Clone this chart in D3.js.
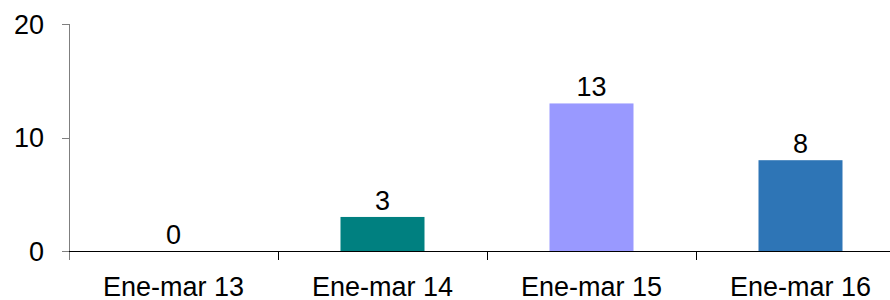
<!DOCTYPE html>
<html>
<head>
<meta charset="utf-8">
<script src="https://cdn.jsdelivr.net/npm/d3@7"></script>
<style>
  body { margin: 0; background: #fff; }
  text { font-family: "Liberation Sans", Arial, sans-serif; fill: #000; }
</style>
</head>
<body>
<svg id="chart" width="890" height="300"></svg>
<script>
var categories = ["Ene-mar 13", "Ene-mar 14", "Ene-mar 15", "Ene-mar 16"];
var values = [0, 3, 13, 8];
var colors = ["#4472c4", "#008080", "#9999ff", "#2e75b6"];
var yTicks = [0, 10, 20];

var svg = d3.select("#chart"),
  plotLeft = 69, plotTop = 24, plotBottom = 251, fs = 27;

var x = d3.scaleBand().domain(categories).range([plotLeft, plotLeft + 4 * 209]).paddingInner(0).paddingOuter(0);
var y = d3.scaleLinear().domain([0, 20]).range([plotBottom, plotTop]);
var barW = 84;

// y axis
svg.append("line")
  .attr("x1", plotLeft + 0.5).attr("x2", plotLeft + 0.5)
  .attr("y1", y(20)).attr("y2", plotBottom + 9)
  .attr("stroke", "#7f7f7f").attr("stroke-width", 1);
svg.selectAll(".ytick").data(yTicks).enter().append("line")
  .attr("x1", plotLeft - 7).attr("x2", plotLeft)
  .attr("y1", function(d) { return Math.round(y(d)) + 0.5; })
  .attr("y2", function(d) { return Math.round(y(d)) + 0.5; })
  .attr("stroke", "#7f7f7f");
svg.selectAll(".ylab").data(yTicks).enter().append("text")
  .attr("x", 44).attr("y", function(d) { return y(d); })
  .attr("dy", "0.36em").attr("text-anchor", "end")
  .attr("font-size", fs).text(function(d) { return d; });

// bars
svg.selectAll(".bar").data(values).enter().append("rect")
  .attr("x", function(d, i) { return x(categories[i]) + x.bandwidth() / 2 - barW / 2; })
  .attr("y", function(d) { return y(d); })
  .attr("width", barW)
  .attr("height", function(d) { return plotBottom - y(d); })
  .attr("fill", function(d, i) { return colors[i]; });

// value labels
svg.selectAll(".val").data(values).enter().append("text")
  .attr("x", function(d, i) { return x(categories[i]) + x.bandwidth() / 2; })
  .attr("y", function(d) { return y(d) - 7; })
  .attr("text-anchor", "middle").attr("font-size", fs)
  .text(function(d) { return d; });

// x axis
svg.append("line")
  .attr("x1", plotLeft).attr("x2", 890)
  .attr("y1", plotBottom + 0.5).attr("y2", plotBottom + 0.5)
  .attr("stroke", "#000");
svg.selectAll(".xtick").data(categories.slice(1)).enter().append("line")
  .attr("x1", function(d) { return Math.round(x(d)) + 0.5; })
  .attr("x2", function(d) { return Math.round(x(d)) + 0.5; })
  .attr("y1", plotBottom).attr("y2", plotBottom + 9)
  .attr("stroke", "#000");
svg.selectAll(".xlab").data(categories).enter().append("text")
  .attr("x", function(d) { return x(d) + x.bandwidth() / 2; })
  .attr("y", 296)
  .attr("text-anchor", "middle").attr("font-size", fs)
  .text(function(d) { return d; });
</script>
</body>
</html>
